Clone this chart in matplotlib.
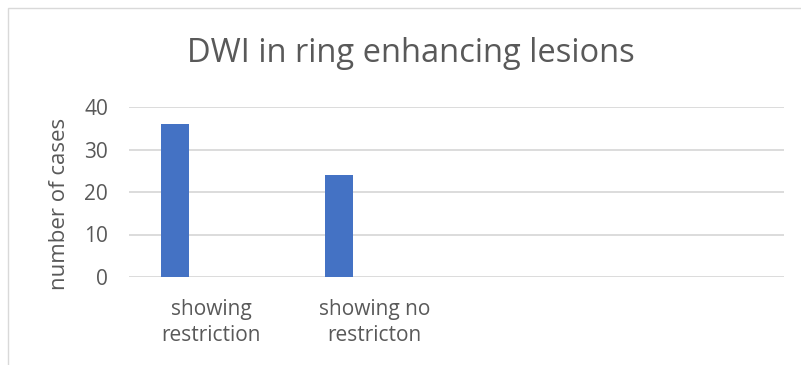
import matplotlib.pyplot as plt
import matplotlib.patches as mpatches
import numpy as np

# counts of cases per DWI finding
categories = ['showing\nrestriction', 'showing no\nrestricton', '', '']
cases = [36, 24]
yticks = [0, 10, 20, 30, 40]

textColor = '#595959'
barColor = '#4472C4'
gridColor = '#D9D9D9'

plt.rcParams['font.family'] = ['Open Sans', 'DejaVu Sans']

W, H = 801, 365
fig = plt.figure(figsize=(W/100, H/100), dpi=100)
fig.patch.set_facecolor('white')

# chart frame (runs off the right and bottom edge)
frame = mpatches.Rectangle((8/W, -0.1), 1.2, 1 - 8/H + 0.1, transform=fig.transFigure,
                           fill=False, edgecolor='#D9D9D9', linewidth=1.0)
fig.patches.append(frame)

ax = fig.add_axes([129/W, 88/H, (784-129)/W, (277-107)/H])

x = np.arange(len(categories))
ax.bar(x[:len(cases)] - 0.22, cases, width=0.17, color=barColor, zorder=3)

ax.set_xlim(-0.5, len(categories) - 0.5)
ax.set_ylim(0, 40)
ax.set_yticks(yticks)
ax.set_xticks(x[:len(cases)])
ax.set_xticklabels(categories[:len(cases)], linespacing=1.3)

for s in ax.spines.values():
    s.set_visible(False)
ax.grid(axis='y', color=gridColor, linewidth=1.3, zorder=0)
ax.set_axisbelow(True)
ax.tick_params(axis='both', length=0, colors=textColor, labelsize=15)
ax.tick_params(axis='y', pad=15)
ax.tick_params(axis='x', pad=16)

ax.set_ylabel('number of cases', color=textColor, fontsize=16)
ax.yaxis.set_label_coords(-0.09, 0.43)
fig.text(411/W, 1 - 53/H, 'DWI in ring enhancing lesions', ha='center', va='center',
         color=textColor, fontsize=23.5)

fig.savefig('out.png', dpi=100)
